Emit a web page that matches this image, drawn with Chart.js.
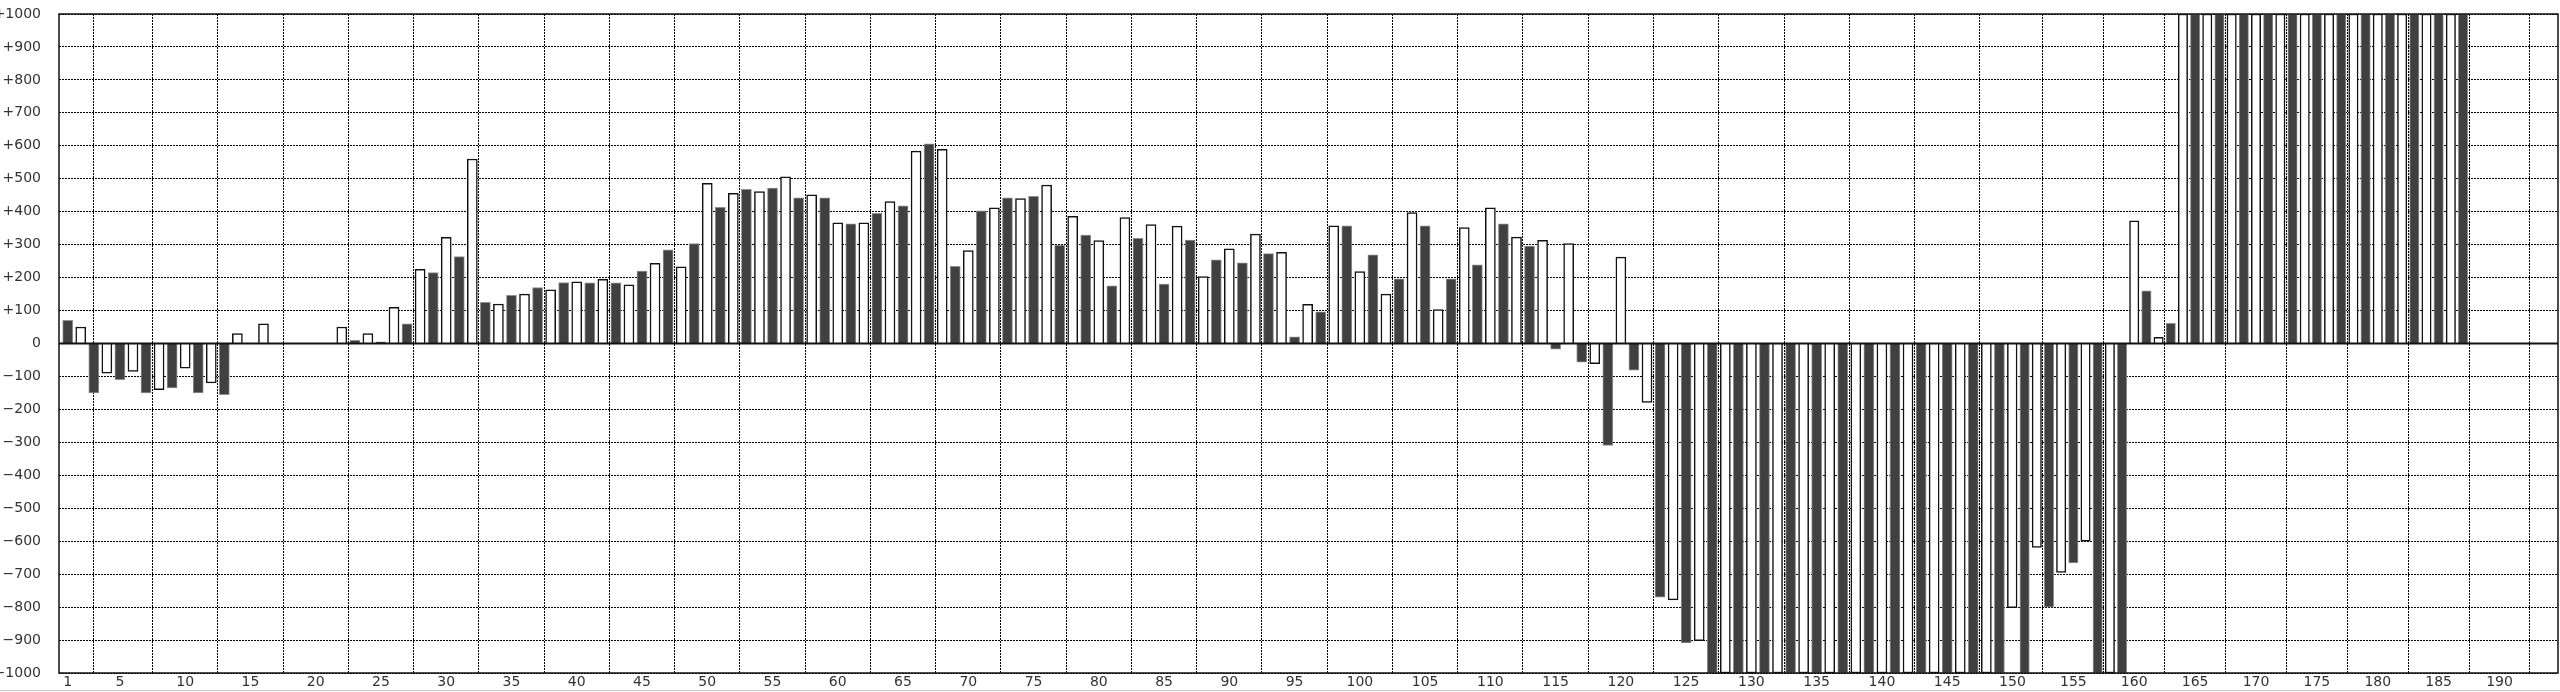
<!DOCTYPE html>
<html>
<head>
<meta charset="utf-8">
<script src="https://cdn.jsdelivr.net/npm/chart.js@4.4.1/dist/chart.umd.min.js"></script>
<style>
  html, body { margin: 0; padding: 0; background: #fff; overflow: hidden; }
  #wrap { width: 2560px; height: 690px; position: relative; }
  #bottom-line { width: 2560px; height: 1px; background: #c8c8c8; }
</style>
</head>
<body>
<div id="wrap"><canvas id="chart"></canvas></div>
<div id="bottom-line"></div>
<script>
// values per day (bars past the frame are capped at +/-1000)
const days001to030 = [70, 50, -150, -90, -110, -85, -150, -140, -135, -75, -150, -120, -155, 30, 0, 60, 0, 0, 0, 0, 0, 50, 10, 30, 5, 110, 60, 225, 215, 322];
const days031to060 = [264, 560, 125, 120, 146, 150, 170, 163, 185, 187, 184, 195, 184, 178, 220, 243, 284, 233, 303, 486, 413, 456, 468, 461, 472, 506, 442, 451, 442, 366];
const days061to090 = [363, 366, 395, 431, 418, 584, 606, 589, 234, 282, 403, 412, 442, 440, 447, 481, 298, 386, 329, 312, 175, 382, 319, 361, 180, 356, 314, 203, 254, 287];
const days091to120 = [245, 332, 273, 277, 20, 119, 96, 357, 357, 218, 269, 150, 196, 397, 357, 103, 196, 352, 239, 412, 363, 323, 296, 313, -17, 303, -57, -61, -309, 262];
const days121to150 = [-81, -179, -770, -778, -909, -902,
  -1000, -1000, -1000, -1000, -1000, -1000, -1000, -1000, -1000, -1000, -1000, -1000,
  -1000, -1000, -1000, -1000, -1000, -1000, -1000, -1000, -1000, -1000, -1000, -802];
const days151to187 = [-1000, -619, -800, -695, -666, -600, -1000, -1000, -1000, 372, 160, 19, 61,
  1000, 1000, 1000, 1000, 1000, 1000, 1000, 1000, 1000, 1000, 1000, 1000,
  1000, 1000, 1000, 1000, 1000, 1000, 1000, 1000, 1000, 1000, 1000, 1000];

const values = [].concat(days001to030, days031to060, days061to090, days091to120, days121to150, days151to187);
const dayNumbers = values.map((_, i) => i + 1);

const xTicks = [1, 5, 10, 15, 20, 25, 30, 35, 40, 45, 50, 55, 60, 65, 70, 75, 80, 85, 90, 95,
  100, 105, 110, 115, 120, 125, 130, 135, 140, 145, 150, 155, 160, 165, 170, 175, 180, 185, 190];

// the x axis of the original gets tighter after day 150
const BREAK_AT = 150;
const SQUEEZE = 0.933;

function warp(v) {
  return v <= BREAK_AT ? v : BREAK_AT + (v - BREAK_AT) * SQUEEZE;
}
function unwarp(w) {
  return w <= BREAK_AT ? w : BREAK_AT + (w - BREAK_AT) / SQUEEZE;
}

class WarpedScale extends Chart.LinearScale {
  getPixelForValue(value) {
    if (value === null || value === undefined || isNaN(value)) return NaN;
    const a = warp(this.min), b = warp(this.max);
    return this.getPixelForDecimal((warp(value) - a) / (b - a));
  }
  getValueForPixel(pixel) {
    const a = warp(this.min), b = warp(this.max);
    return unwarp(a + this.getDecimalForPixel(pixel) * (b - a));
  }
}
WarpedScale.id = 'warped';
WarpedScale.defaults = Chart.LinearScale.defaults;
Chart.register(WarpedScale);

const framePlugin = {
  id: 'frame',
  afterDatasetsDraw(chart) {
    const { ctx, chartArea: a, scales: { y } } = chart;
    const zeroY = y.getPixelForValue(0);
    ctx.save();
    ctx.strokeStyle = '#111';
    ctx.lineWidth = 2;
    ctx.beginPath();
    ctx.moveTo(a.left, zeroY);
    ctx.lineTo(a.right, zeroY);
    ctx.stroke();
    ctx.lineWidth = 1.5;
    ctx.strokeRect(a.left, a.top, a.right - a.left, a.bottom - a.top);
    ctx.restore();
  }
};

const font = { family: 'DejaVu Sans', size: 14 };

new Chart(document.getElementById('chart'), {
  type: 'bar',
  data: {
    labels: dayNumbers,
    datasets: [{
      data: values,
      backgroundColor: c => c.dataIndex % 2 === 0 ? '#404040' : '#ffffff',
      borderColor: c => c.dataIndex % 2 === 0 ? '#8f8f8f' : '#111111',
      borderWidth: c => c.dataIndex % 2 === 0 ? 1 : 1.5,
      barThickness: 'flex',
      barPercentage: 0.77,
      categoryPercentage: 1,
      clip: 0,
    }],
  },
  plugins: [framePlugin],
  options: {
    responsive: true,
    maintainAspectRatio: false,
    animation: false,
    devicePixelRatio: 1,
    layout: { padding: { top: 14, right: 2, bottom: 0, left: 0 } },
    plugins: { legend: { display: false }, tooltip: { enabled: false } },
    scales: {
      x: {
        type: 'warped',
        min: 0.333,
        max: 194.8,
        bounds: 'data',
        afterBuildTicks: s => { s.ticks = xTicks.map(v => ({ value: v })); },
        afterFit: s => { s.height = 17; },
        ticks: {
          autoSkip: false, maxRotation: 0, minRotation: 0, padding: 1,
          font: font, color: '#333',
          callback: v => String(v),
        },
        grid: { color: '#000', lineWidth: 1, drawTicks: false },
        border: { display: false, dash: [2, 1] },
      },
      y: {
        min: -1000,
        max: 1000,
        afterFit: s => { s.width = 59; },
        ticks: {
          stepSize: 100, padding: 0, font: font, color: '#333',
          callback: v => v > 0 ? '+' + v : (v < 0 ? '\u2212' + (-v) : '0'),
        },
        grid: { color: '#000', lineWidth: 1, drawTicks: true, tickLength: 18, tickColor: 'rgba(0,0,0,0)' },
        border: { display: false, dash: [2, 1] },
      },
    },
  },
});
</script>
</body>
</html>
